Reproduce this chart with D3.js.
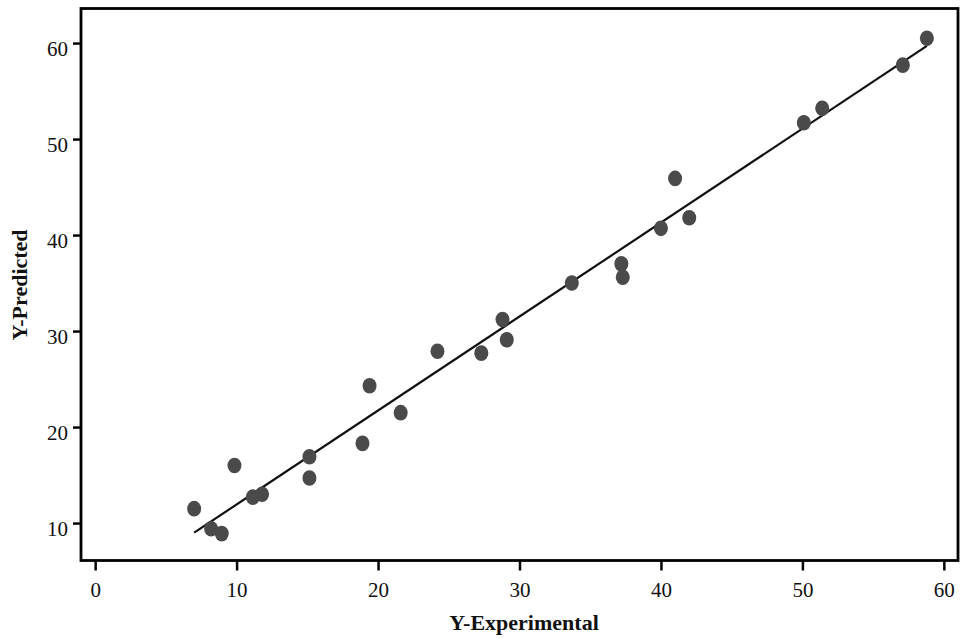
<!DOCTYPE html>
<html>
  <head>
    <meta charset="utf-8">
    <title>Y-Predicted vs Y-Experimental</title>
    <style media="screen">
    body{margin:0;background:#fff}
    text{font-family:"Liberation Serif","Times New Roman",serif}
    </style>
  </head>
  <body>
    <svg width="960" height="638"></svg>
    <script src="https://d3js.org/d3.v7.min.js"></script>
    <script>

    var yExperimental = [7.0, 8.2, 8.95, 9.85, 11.15, 11.8, 15.15, 15.15, 18.9, 19.4, 21.6, 24.2, 27.3,
                         28.8, 29.1, 33.7, 37.2, 37.3, 40.0, 41.0, 42.0, 50.1, 51.4, 57.1, 58.8];
    var yPredicted    = [11.5, 9.4, 8.9, 16.0, 12.7, 13.0, 16.9, 14.7, 18.3, 24.3, 21.5, 27.9, 27.7,
                         31.2, 29.1, 35.0, 37.0, 35.6, 40.7, 45.9, 41.8, 51.7, 53.2, 57.7, 60.5];

    // fitted line end points
    var fitX = [7.0, 58.8];
    var fitY = [9.0, 59.7];

    var xTicks = [0, 10, 20, 30, 40, 50, 60];
    var yTicks = [10, 20, 30, 40, 50, 60];

    // plot box edges (pixels)
    var boxL = 81, boxR = 958, boxT = 8.5, boxB = 560.5;

    var svg = d3.select("svg");

    var _x = d3.scaleLinear().domain([-1, 61]).range([boxL, boxR]);
    var _y = d3.scaleLinear().domain([6.1, 63.6]).range([boxB, boxT]);

    // x axis
    var xa = svg.append("g").attr("transform", "translate(0," + boxB + ")")
      .call(d3.axisBottom(_x).tickValues(xTicks).tickSize(10).tickPadding(12).tickSizeOuter(0));
    xa.select(".domain").remove();
    xa.selectAll("line").attr("stroke", "#000").attr("stroke-width", 2.5);
    xa.selectAll("text").attr("font-size", 21).attr("fill", "#111")
      .attr("font-family", "Liberation Serif");

    // y axis
    var ya = svg.append("g").attr("transform", "translate(" + boxL + ",0)")
      .call(d3.axisLeft(_y).tickValues(yTicks).tickSize(8).tickPadding(5).tickSizeOuter(0));
    ya.select(".domain").remove();
    ya.selectAll("line").attr("stroke", "#000").attr("stroke-width", 2.5);
    ya.selectAll("text").attr("font-size", 21).attr("fill", "#111").attr("dy", "0.6em")
      .attr("font-family", "Liberation Serif");

    // frame
    svg.append("rect").attr("x", boxL).attr("y", boxT)
      .attr("width", boxR - boxL).attr("height", boxB - boxT)
      .attr("fill", "none").attr("stroke", "#000").attr("stroke-width", 2.8);

    // fitted line
    var line = d3.line().x(function(d) { return _x(d[0]); }).y(function(d) { return _y(d[1]); });
    svg.append("path").datum(d3.zip(fitX, fitY))
      .attr("d", line).attr("fill", "none").attr("stroke", "#111").attr("stroke-width", 2.2);

    // points
    svg.append("g").selectAll("ellipse").data(d3.zip(yExperimental, yPredicted)).enter()
      .append("ellipse")
      .attr("cx", function(d) { return _x(d[0]); })
      .attr("cy", function(d) { return _y(d[1]); })
      .attr("rx", 7).attr("ry", 7.8)
      .attr("fill", "#4a4a4a");

    // axis titles
    svg.append("text").attr("x", 524).attr("y", 630).attr("text-anchor", "middle")
      .attr("font-size", 22).attr("font-weight", "bold").attr("fill", "#111")
      .text("Y-Experimental");
    svg.append("text").attr("transform", "translate(27,285) rotate(-90)").attr("text-anchor", "middle")
      .attr("font-size", 22).attr("font-weight", "bold").attr("fill", "#111")
      .text("Y-Predicted");

    </script>
  </body>
</html>
